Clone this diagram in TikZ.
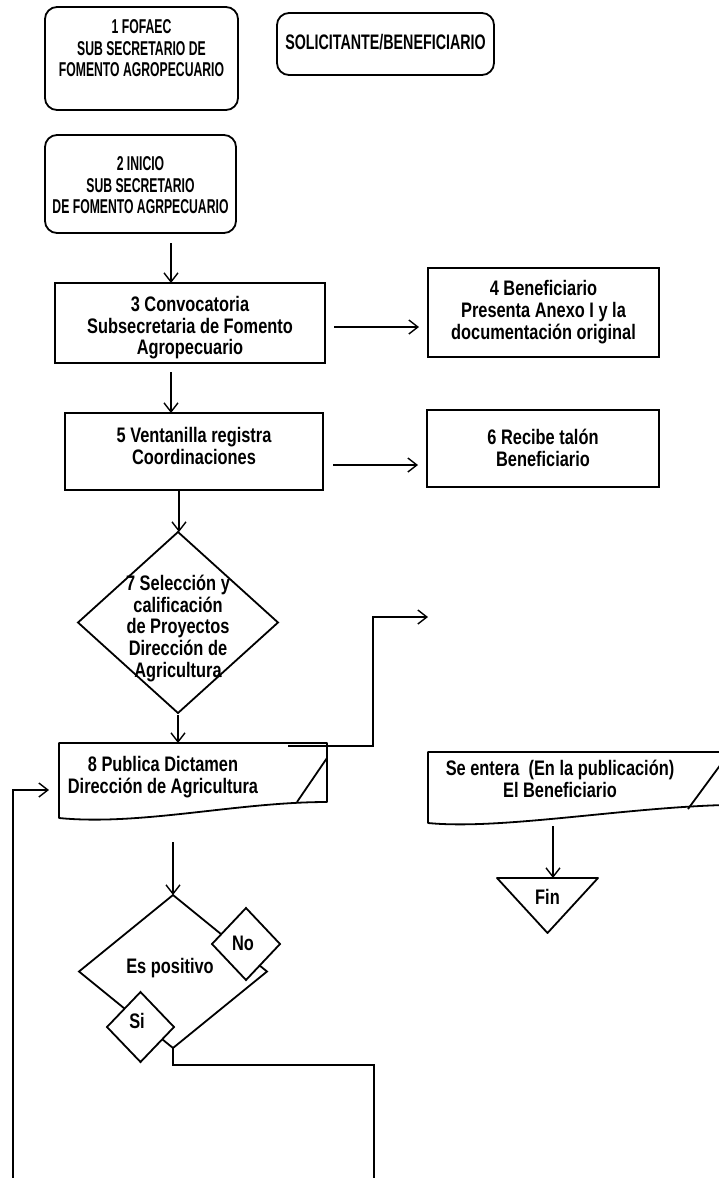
\documentclass[tikz,border=0pt]{standalone}
\usepackage{fontspec}
\setmainfont{Liberation Sans}[FakeStretch=0.78]
\newfontfamily\capsnarrow{Liberation Sans}[FakeStretch=0.61]
\newfontfamily\capswide{Liberation Sans}[FakeStretch=0.68]
\usetikzlibrary{shapes.geometric,arrows.meta}
% text styles of the labels
\newcommand\fsz{\fontsize{21}{21.5}\selectfont\bfseries}
\newcommand\fcapsA{\capsnarrow\fontsize{20}{21.5}\selectfont\bfseries}
\newcommand\fcapsB{\capswide\fontsize{21}{21.5}\selectfont\bfseries}
% centred label block with no size of its own: #1 horizontal offset, #2 vertical offset
\newcommand\txt[3]{\makebox[0pt]{\kern#1\kern#1\raisebox{\dimexpr#2-7.5pt\relax}[0pt][0pt]{\begin{tabular}{@{}c@{}}#3\end{tabular}}}}
\begin{document}
\begin{tikzpicture}[x=1pt,y=-1pt,
  shp/.style={inner sep=0pt,outer sep=0pt,font=\fsz,line width=1.8pt},
  rbox/.style={shp,draw,rectangle,rounded corners=12pt},
  sbox/.style={shp,draw,rectangle},
  doc/.style={shp,rectangle},
  dia/.style={shp,draw,diamond,fill=white},
  edge/.style={line width=1.4pt},
  arr/.style={edge,-{Straight Barb[length=9pt,width=14pt]}},
  outline/.style={line width=1.8pt,line join=round}]
\fill[white] (0,0) rectangle (719,1178);
\useasboundingbox (0,0) rectangle (719,1178);

% header boxes
\node[rbox,font=\fcapsA,minimum width=193pt,minimum height=103pt] (n1) at (141.5,58.5)
  {\txt{0pt}{10pt}{1 FOFAEC\\SUB SECRETARIO DE\\FOMENTO AGROPECUARIO}};
\node[rbox,font=\fcapsB,minimum width=217pt,minimum height=62pt] (sol) at (385.5,44)
  {\txt{0pt}{1pt}{SOLICITANTE/BENEFICIARIO}};
\node[rbox,font=\fcapsA,minimum width=191pt,minimum height=98pt] (n2) at (140.5,184)
  {\txt{0pt}{-1.5pt}{2 INICIO\\SUB SECRETARIO\\DE FOMENTO AGRPECUARIO}};

% process boxes
\node[sbox,minimum width=270pt,minimum height=80pt] (n3) at (190,323)
  {\txt{0pt}{-3.5pt}{3 Convocatoria\\Subsecretaria de Fomento\\Agropecuario}};
\node[sbox,minimum width=231pt,minimum height=89pt] (n4) at (543.5,312.5)
  {\txt{0pt}{1.5pt}{4 Beneficiario\\Presenta Anexo I y la\\documentación original}};
\node[sbox,minimum width=258pt,minimum height=77pt] (n5) at (194,451.5)
  {\txt{0pt}{4.5pt}{5 Ventanilla registra\\Coordinaciones}};
\node[sbox,minimum width=232pt,minimum height=77pt] (n6) at (543,448.5)
  {\txt{0pt}{-0.5pt}{6 Recibe talón\\Beneficiario}};

% selection decision
\node[dia,minimum width=200pt,minimum height=181pt] (n7) at (178,622.5)
  {\txt{0pt}{-4.5pt}{7 Selección y\\calificación\\de Proyectos\\Dirección de\\Agricultura}};

% document shapes
\node[doc,minimum width=268pt,minimum height=75pt] (d8) at (193,780.5)
  {\txt{-30pt}{4.5pt}{8 Publica Dictamen\\Dirección de Agricultura}};
\draw[outline] (d8.south west) -- (d8.north west) -- (d8.north east)
  -- ([yshift=16pt]d8.south east)
  .. controls ([xshift=-90pt,yshift=16pt]d8.south east) and ([xshift=81pt,yshift=-8pt]d8.south west) .. (d8.south west) -- cycle;
\draw[outline] ([xshift=-30pt,yshift=16pt]d8.south east) -- ([yshift=-15pt]d8.north east);

\node[doc,minimum width=296pt,minimum height=71pt] (se) at (576,787.5)
  {\txt{-16pt}{7.5pt}{Se entera\ \ (En la publicación)\\El Beneficiario}};
\draw[outline] (se.south west) -- (se.north west) -- (se.north east)
  -- ([yshift=18pt]se.south east)
  .. controls ([xshift=-104pt,yshift=15pt]se.south east) and ([xshift=72pt,yshift=-7pt]se.south west) .. (se.south west) -- cycle;
\draw[outline] ([xshift=-36pt,yshift=14pt]se.south east) -- ([yshift=-8pt]se.north east);

% end terminal
\node[shp,rectangle,minimum width=101pt,minimum height=55pt] (fin) at (547.5,905.5)
  {\txt{0pt}{7.5pt}{Fin}};
\draw[outline] (fin.north west) -- (fin.north east) -- (fin.south) -- cycle;

% result decision
\node[dia,minimum width=188pt,minimum height=153pt] (q) at (173,971.5)
  {\txt{-3pt}{4.5pt}{Es positivo}};
\node[dia,minimum width=68pt,minimum height=72pt] (no) at (246,944)
  {\txt{-3pt}{0pt}{No}};
\node[dia,minimum width=67pt,minimum height=70pt] (si) at (140.5,1027)
  {\txt{-3.5pt}{5pt}{Si}};

\coordinate (pub) at (428,617);
\coordinate (lb) at (13,1180);
\coordinate (rb) at (374,1180);

% connectors
\draw[arr,shorten <=10pt] ([xshift=30.5pt]n2.south) -- ([xshift=-19pt]n3.north);
\draw[arr,shorten <=9pt,shorten >=9pt] ([yshift=-4pt]n3.east) -- ([yshift=-14.5pt]n4.west);
\draw[arr,shorten <=9pt] ([xshift=-19pt]n3.south) -- ([xshift=-23pt]n5.north);
\draw[arr,shorten <=10pt,shorten >=9pt] ([yshift=-13.5pt]n5.east) -- ([yshift=-16.5pt]n6.west);
\draw[arr] ([xshift=-15pt]n5.south) -- ([xshift=1pt]n7.north);
\draw[arr,shorten <=2pt] (n7.south) -- ([xshift=-15pt]d8.north);
\draw[arr] ([xshift=-39pt,yshift=-3pt]d8.north east) -| ([xshift=-55pt]pub) -- (pub);
\draw[arr,shorten <=3pt] ([xshift=5.5pt]fin.north |- se.south) -- ([xshift=5.5pt]fin.north);
\draw[arr,shorten <=24pt] ([xshift=-20pt]d8.south) -- (q.north);
\draw[edge] (q.south) -- ++(0,17) -| (rb);
\draw[arr,shorten >=10pt] (lb) |- ([yshift=-9.5pt]d8.west);
\end{tikzpicture}
\end{document}
